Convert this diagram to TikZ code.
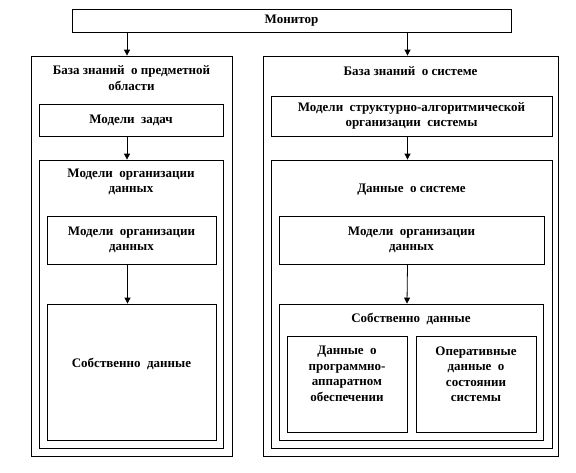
\documentclass[tikz,border=0pt]{standalone}
\usepackage{fontspec}
\setmainfont{Liberation Serif}
\usetikzlibrary{arrows.meta,positioning}

\begin{document}
\begin{tikzpicture}[x=1pt,y=-1pt,
    every node/.style={font=\bfseries\fontsize{13}{15.5}\selectfont},
    frame/.style={draw,line width=0.8pt,inner sep=0pt},
    caption/.style={align=center,inner sep=1pt},
    link/.style={-{Triangle[width=6pt,length=6pt]},line width=0.8pt}]
  \useasboundingbox (0,0) rectangle (576,472);
  % top
  \node[frame,minimum width=439pt,minimum height=23pt] (mon) at (291.5,20.5) {Монитор};
  % left column
  \node[frame,minimum width=201pt,minimum height=400pt] (kbL) at (131.5,256) {};
  \node[caption] (kbLt) at (131.5,78) {База знаний\ \ о предметной\\области};
  \node[frame,minimum width=184pt,minimum height=32pt] (tasks) at (131,120) {Модели\ \ задач};
  \node[frame,minimum width=184pt,minimum height=288pt] (orgL) at (131,304) {};
  \node[caption] (orgLt) at (131,182) {Модели\ \ организации\\данных};
  \node[frame,minimum width=169pt,minimum height=48pt,align=center] (orgLi) at (131.5,240)
    {Модели\ \ организации\\данных};
  \node[frame,minimum width=169pt,minimum height=136pt] (ownL) at (131.5,372) {};
  \node[caption] (ownLt) at (131.5,364) {Собственно\ \ данные};
  % right column
  \node[frame,minimum width=295pt,minimum height=400pt] (kbR) at (410.5,256) {};
  \node[caption] (kbRt) at (410.5,71) {База знаний\ \ о системе};
  \node[frame,minimum width=281pt,minimum height=40pt,align=center] (struct) at (411.5,116)
    {Модели\ \ структурно-алгоритмической\\организации\ \ системы};
  \node[frame,minimum width=281pt,minimum height=288pt] (sysR) at (411.5,304) {};
  \node[caption] (sysRt) at (411.5,190) {Данные\ \ о системе};
  \node[frame,minimum width=265pt,minimum height=48pt,align=center] (orgRi) at (411.5,240)
    {Модели\ \ организации\\данных};
  \node[frame,minimum width=264pt,minimum height=136pt] (ownR) at (411,372) {};
  \node[caption] (ownRt) at (411,319) {Собственно\ \ данные};
  \node[frame,minimum width=120pt,minimum height=96pt] (hw) at (347,384) {};
  \node[caption] (hwt) at (347,374) {Данные\ \ о\\программно-\\аппаратном\\обеспечении};
  \node[frame,minimum width=120pt,minimum height=96pt] (st) at (476,384) {};
  \node[caption] (stt) at (476,374) {Оперативные\\данные\ \ о\\состоянии\\системы};
  % arrows
  \draw[link] ([xshift=-4pt]mon.south -| tasks.north) -- ([xshift=-4pt]tasks.north |- kbL.north);
  \draw[link] ([xshift=-4pt]mon.south -| struct.north) -- ([xshift=-4pt]struct.north |- kbR.north);
  \draw[link] ([xshift=-4pt]tasks.south) -- ([xshift=-4pt]orgL.north);
  \draw[link] ([xshift=-4pt]orgLi.south) -- ([xshift=-4pt]ownL.north);
  \draw[link] ([xshift=-4pt]struct.south) -- ([xshift=-4pt]sysR.north);
  \draw[link] ([xshift=-4pt]orgRi.south) -- ([xshift=-4pt]ownR.north);
\end{tikzpicture}
\end{document}
